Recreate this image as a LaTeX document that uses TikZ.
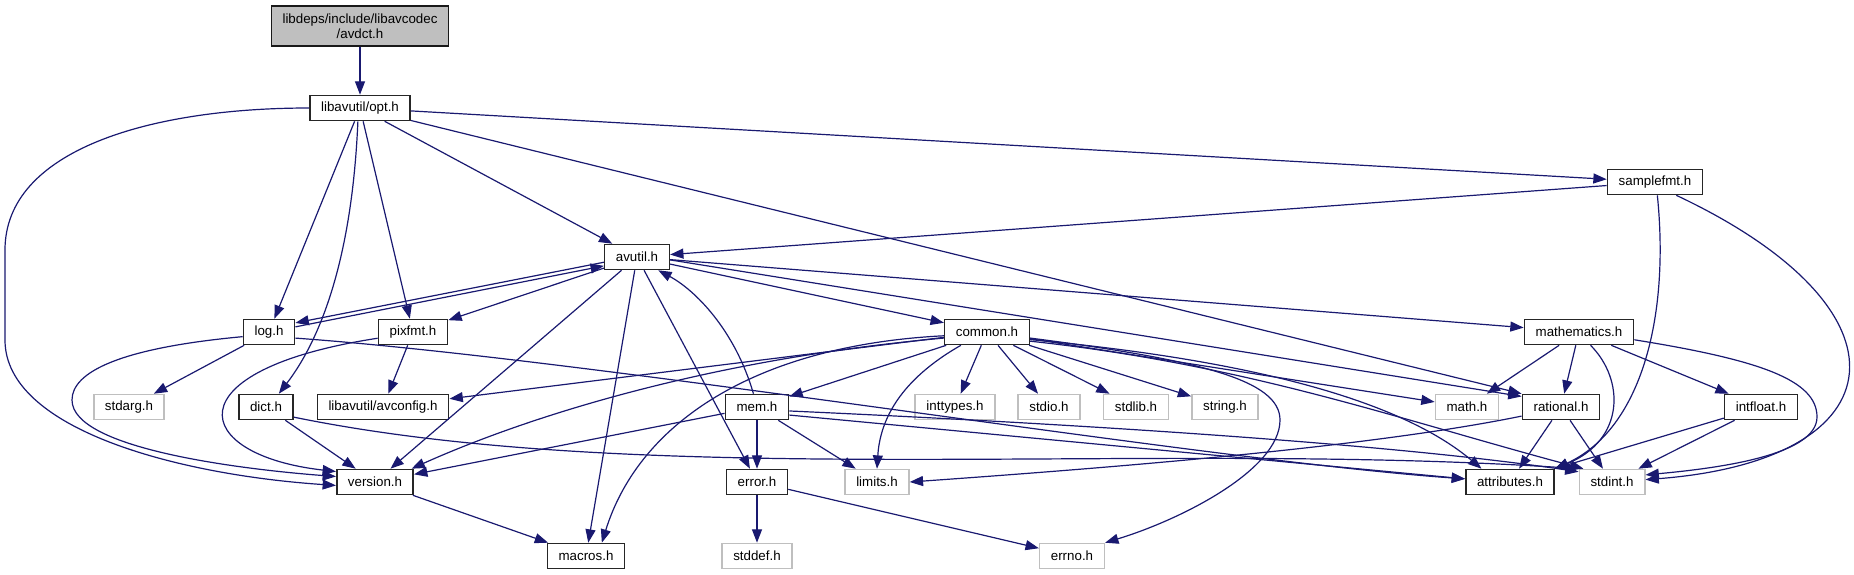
\documentclass[tikz,border=0pt]{standalone}
\usepackage{fontspec}
\setmainfont{Liberation Sans}
\usetikzlibrary{arrows.meta}
\definecolor{edgeblue}{HTML}{191970}
\definecolor{sysgray}{HTML}{BFBFBF}

\begin{document}
\begin{tikzpicture}[
    x=0.75pt, y=-0.75pt,
    font=\fontsize{10}{11}\selectfont,
    hdr/.style={draw=black!85, line width=1.2pt, fill=white, inner xsep=8.4pt, inner ysep=0pt, minimum height=18.75pt},
    syshdr/.style={hdr, draw=sysgray},
    root/.style={hdr, fill=sysgray, draw=black!90, minimum height=30pt, align=center},
    dep/.style={-{Triangle[length=10pt,width=7.5pt]}, draw=edgeblue, line width=0.9pt}
]
\useasboundingbox (0,0) rectangle (1854,575);

% headers, row by row
\node[root] (avdct) at (360,26) {libdeps/include/libavcodec\\/avdct.h};
\node[hdr] (opt) at (360,108) {libavutil/opt.h};
\node[hdr] (samplefmt) at (1655,182) {samplefmt.h};
\node[hdr] (avutil) at (637,257) {avutil.h};
\node[hdr] (logh) at (269,332) {log.h};
\node[hdr] (pixfmt) at (413,332) {pixfmt.h};
\node[hdr] (common) at (987,332) {common.h};
\node[hdr] (mathematics) at (1579,332) {mathematics.h};
\node[syshdr] (stdarg) at (129,407) {stdarg.h};
\node[hdr] (dict) at (266,407) {dict.h};
\node[hdr] (avconfig) at (383,407) {libavutil/avconfig.h};
\node[hdr] (mem) at (757,407) {mem.h};
\node[syshdr] (inttypes) at (955,407) {inttypes.h};
\node[syshdr] (stdio) at (1049,407) {stdio.h};
\node[syshdr] (stdlib) at (1136,407) {stdlib.h};
\node[syshdr] (stringh) at (1225,407) {string.h};
\node[syshdr] (mathh) at (1467,407) {math.h};
\node[hdr] (rational) at (1561,407) {rational.h};
\node[hdr] (intfloat) at (1761,407) {intfloat.h};
\node[hdr] (version) at (375,482) {version.h};
\node[hdr] (error) at (757,482) {error.h};
\node[syshdr] (limits) at (877,482) {limits.h};
\node[hdr] (attributes) at (1510,482) {attributes.h};
\node[syshdr] (stdint) at (1612,482) {stdint.h};
\node[hdr] (macros) at (586,556) {macros.h};
\node[syshdr] (stddef) at (757,556) {stddef.h};
\node[syshdr] (errno) at (1072,556) {errno.h};

% includes
\draw[dep] (avdct) -- (opt);
\draw[dep] (opt.west) .. controls (150,108) and (5,150) .. (5,250) -- (5,340) .. controls (5,430) and (180,475) .. (version.185);
\draw[dep] (opt) -- (logh);
\draw[dep] (opt.-99) .. controls (352,260) and (320,340) .. (dict.46);
\draw[dep] (opt) -- (pixfmt);
\draw[dep] (opt) -- (avutil);
\draw[dep] (opt) -- (rational.north west);
\draw[dep] (opt) -- (samplefmt);

\draw[dep] (samplefmt) -- (avutil);
\draw[dep] (samplefmt.-80) .. controls (1670,320) and (1640,430) .. (attributes.north east);
\draw[dep] (samplefmt.-32) .. controls (1920,310) and (1900,460) .. (stdint.4);

\draw[dep] (avutil.189) -- (logh.19);
\draw[dep] (avutil) -- (pixfmt);
\draw[dep] (avutil) -- (version);
\draw[dep] (avutil) -- (macros);
\draw[dep] (avutil) -- (error);
\draw[dep] (avutil) -- (common);
\draw[dep] (avutil.-5) -- (rational.165);
\draw[dep] (avutil) -- (mathematics);

\draw[dep] (logh.11) -- (avutil.195);
\draw[dep] (logh) -- (stdarg);
\draw[dep] (logh.190) .. controls (120,348) and (72,372) .. (72,400) .. controls (72,450) and (250,470) .. (version.172);
\draw[dep] (logh.-13) .. controls (600,360) and (1200,460) .. (attributes.176);

\draw[dep] (pixfmt) -- (avconfig);
\draw[dep] (pixfmt.190) .. controls (170,370) and (190,455) .. (version.165);

\draw[dep] (dict) -- (version);
\draw[dep] (dict.-20) .. controls (650,490) and (1150,440) .. (stdint.north west);

\draw[dep] (common) -- (avconfig);
\draw[dep] (common.188) .. controls (700,360) and (520,420) .. (version.20);
\draw[dep] (common.185) .. controls (760,345) and (640,420) .. (macros.40);
\draw[dep] (common) -- (mem);
\draw[dep] (common.207) .. controls (900,380) and (880,420) .. (limits.north);
\draw[dep] (common) -- (inttypes);
\draw[dep] (common) -- (stdio);
\draw[dep] (common) -- (stdlib);
\draw[dep] (common) -- (stringh);
\draw[dep] (common) -- (mathh);
\draw[dep] (common.-8) .. controls (1200,360) and (1280,380) .. (1280,420) .. controls (1280,470) and (1180,520) .. (errno.north east);
\draw[dep] (common.-10) .. controls (1250,360) and (1400,400) .. (attributes.155);
\draw[dep] (common.-12) .. controls (1250,365) and (1400,420) .. (stdint.155);

\draw[dep] (mem.105) .. controls (735,330) and (695,290) .. (avutil.-32);
\draw[dep] (mem) -- (error);
\draw[dep] (mem) -- (limits);
\draw[dep] (mem) -- (version);
\draw[dep] (mem.-14) -- (attributes.176);
\draw[dep] (mem.-7) .. controls (1100,425) and (1400,445) .. (stdint.163);

\draw[dep] (error) -- (stddef);
\draw[dep] (error) -- (errno);
\draw[dep] (version) -- (macros);

\draw[dep] (mathematics) -- (mathh);
\draw[dep] (mathematics) -- (rational);
\draw[dep] (mathematics.-49) .. controls (1625,380) and (1625,440) .. (attributes.north east);
\draw[dep] (mathematics) -- (intfloat);
\draw[dep] (mathematics.-8) .. controls (1760,360) and (1817,380) .. (1817,417) .. controls (1817,455) and (1720,468) .. (stdint.12);

\draw[dep] (rational.193) .. controls (1380,445) and (1150,465) .. (limits.east);
\draw[dep] (rational) -- (attributes);
\draw[dep] (rational) -- (stdint);

\draw[dep] (intfloat) -- (attributes);
\draw[dep] (intfloat) -- (stdint);
\end{tikzpicture}
\end{document}
